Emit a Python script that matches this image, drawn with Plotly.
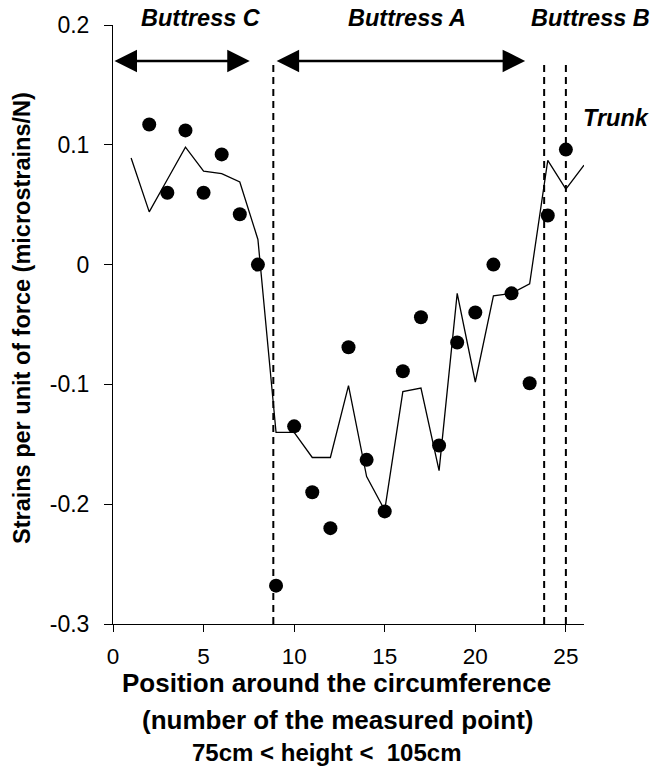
import plotly.graph_objects as go

# ---- data ----
line_x = list(range(1, 27))
line_y = [0.089, 0.044, 0.071, 0.098, 0.078, 0.076, 0.069, 0.021, -0.140, -0.140,
          -0.161, -0.161, -0.101, -0.177, -0.205, -0.106, -0.103, -0.172, -0.024, -0.098,
          -0.026, -0.024, -0.016, 0.087, 0.063, 0.083]

dot_x = list(range(2, 26))
dot_y = [0.117, 0.060, 0.112, 0.060, 0.092, 0.042, 0.000, -0.268, -0.135, -0.190,
         -0.220, -0.069, -0.163, -0.206, -0.089, -0.044, -0.151, -0.065, -0.040, 0.000,
         -0.024, -0.099, 0.041, 0.096]

boundaries = [8.85, 23.8, 25.0]
span_C = [0.0, 7.55]
span_A = [8.95, 22.75]
region_labels = ["Buttress C", "Buttress A", "Buttress B", "Trunk"]

x_tick_vals = [0, 5, 10, 15, 20, 25]
y_tick_vals = [0.2, 0.1, 0.0, -0.1, -0.2, -0.3]
y_tick_text = ["0.2", "0.1", "0", "-0.1", "-0.2", "-0.3"]

FONT = "Liberation Sans, Arial, sans-serif"

fig = go.Figure()
fig.add_trace(go.Scatter(x=line_x, y=line_y, mode="lines",
                         line=dict(color="black", width=1.3), showlegend=False,
                         cliponaxis=False))
fig.add_trace(go.Scatter(x=dot_x, y=dot_y, mode="markers",
                         marker=dict(color="black", size=14), showlegend=False,
                         cliponaxis=False))

for b in boundaries:
    fig.add_shape(type="line", xref="x", yref="y", x0=b, x1=b, y0=-0.3, y1=0.168,
                  line=dict(color="black", width=2, dash="7px,5px"))

arrow_y = 0.17
for span in (span_C, span_A):
    fig.add_annotation(x=span[1], y=arrow_y, ax=span[0], ay=arrow_y,
                       xref="x", yref="y", axref="x", ayref="y", text="",
                       showarrow=True, arrowside="end+start", arrowhead=2,
                       startarrowhead=2, arrowsize=1.8, startarrowsize=1.8,
                       arrowwidth=2.5, arrowcolor="black", standoff=0, startstandoff=0)

lab_font = dict(family=FONT, size=23.5, color="black")
label_pos = [(0.186, 1.0117), (0.624, 1.0117), (1.014, 1.0117), (1.070, 0.845)]
for txt, (lx, ly) in zip(region_labels, label_pos):
    fig.add_annotation(x=lx, y=ly, xref="paper", yref="paper", text=f"<b><i>{txt}</i></b>",
                       showarrow=False, font=lab_font, xanchor="center", yanchor="middle")

# axis titles as annotations (paper coords)
fig.add_annotation(x=0.4735, y=-0.099, xref="paper", yref="paper",
                   text="<b>Position around the circumference</b>", showarrow=False,
                   font=dict(family=FONT, size=26, color="black"), yanchor="middle")
fig.add_annotation(x=0.4756, y=-0.160, xref="paper", yref="paper",
                   text="<b>(number of the measured point)</b>", showarrow=False,
                   font=dict(family=FONT, size=26, color="black"), yanchor="middle")
fig.add_annotation(x=0.454, y=-0.2137, xref="paper", yref="paper",
                   text="<b>75cm &lt; height &lt;\u00a0 105cm</b>", showarrow=False,
                   font=dict(family=FONT, size=24, color="black"), yanchor="middle")
fig.add_annotation(x=-0.193, y=0.511, xref="paper", yref="paper",
                   text="<b>Strains per unit of force (microstrains/N)</b>", showarrow=False,
                   textangle=-90, font=dict(family=FONT, size=23.5, color="black"),
                   xanchor="center", yanchor="middle")

fig.update_xaxes(range=[0, 26], tickvals=x_tick_vals, ticks="outside", ticklen=7,
                 tickwidth=1, tickcolor="black", showline=True, linecolor="black",
                 linewidth=1, showgrid=False, zeroline=False, automargin=False,
                 tickfont=dict(family=FONT, size=22.5, color="black"),
                 ticklabelstandoff=5)
fig.update_yaxes(range=[-0.3, 0.2], tickvals=y_tick_vals, ticktext=y_tick_text,
                 ticks="outside", ticklen=8, tickwidth=1, tickcolor="black",
                 showline=True, linecolor="black", linewidth=1, showgrid=False,
                 zeroline=False, automargin=False,
                 tickfont=dict(family=FONT, size=23, color="black"),
                 ticklabelstandoff=10)

fig.update_layout(width=656, height=770, autosize=False,
                  margin=dict(l=113, r=72, t=25, b=146, pad=0),
                  plot_bgcolor="white", paper_bgcolor="white", showlegend=False)

fig.write_html("out.html", config={"displayModeBar": False},
               post_script="document.body.style.margin='0';document.body.style.overflow='hidden';")
